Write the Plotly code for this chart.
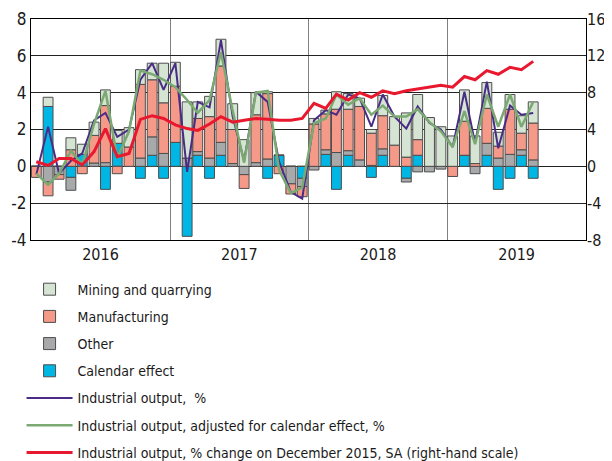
import plotly.graph_objects as go

months = [f"{y}-{m:02d}-15" for y in range(2016, 2020) for m in range(1, 13)][:44]

mining = [0, 0.5, 0, 0.65, 0.55, 0.72, 0.85, 0.7, 1.05, 0.8, 0.9, 2.15,
          1.3, 3.05, 0.9, 1.1, 1.45, 1.4, 1.45, 1.2, 0.1, 0, 0, 0,
          0.3, 0.2, 0.95, 0.85, 0.45, 0.2, 1.1, 1.55, 2.4, 2.45, 2.65, 2.15,
          1.65, 1.7, 1.5, 1.4, 0.75, 0.8, 0.95, 1.15]
manuf = [-0.6, -0.75, -0.25, 0.9, -0.4, 1.5, 3.1, -0.4, 1.05, 4.0, 3.1, 2.75,
         3.05, 0, 1.8, 2.25, 4.15, 1.85, -0.75, 2.6, 3.55, -0.4, -0.55, -0.55,
         2.3, 1.95, 2.35, 2.25, 2.9, 1.75, 1.8, 1.15, 0.5, 0.85, 0, 0,
         -0.55, 1.85, 0.15, 1.9, 0.65, 2.45, 0.9, 2.0]
other = [0, -0.85, -0.45, -0.7, 0, 0.18, 0.2, 0, 0, 0.45, 1.0, 0.7,
         0, 0.45, 0.2, 0.45, 0.7, 0.15, -0.45, 0.2, 0.4, 0, -0.95, -0.45,
         -0.2, 0.25, 0.75, 0.25, 0.35, 0.05, 0.35, 0, -0.2, -0.3, -0.3, -0.15,
         0, 0, -0.4, 0.65, 0.45, 0.65, 0.3, 0.35]
calendar = [0, 3.25, 0, -0.6, 0.65, 0, -1.25, 1.25, 0, -0.65, 0.6, -0.65,
            1.3, -3.8, 0.6, -0.65, 0.6, 0, 0, 0, -0.65, 0.6, 0, -0.65,
            0, 0.65, -1.25, 0.6, 0, -0.6, 0.6, 0, -0.65, 0.6, 0, 0,
            0, 0.6, 0, 0.6, -1.25, -0.65, 0.6, -0.65]
output = [-0.45, 2.15, -0.4, 0.3, 0.7, 2.5, 2.9, 1.6, 2.0, 4.7, 5.6, 4.15,
          5.6, -0.3, 3.5, 3.2, 6.85, 2.7, 0.3, 4.05, 3.5, 0.25, -1.4, -1.75,
          2.5, 3.05, 2.8, 3.9, 3.7, 2.15, 3.9, 2.7, 2.05, 3.25, 2.35, 2.0,
          1.05, 4.05, 1.25, 4.6, 0.98, 3.3, 2.8, 2.9]
output_adj = [-0.4, -1.0, -0.4, 0.85, 0.1, 2.3, 4.1, 0.45, 1.9, 5.2, 5.0, 4.7,
              4.3, 3.6, 2.9, 3.6, 6.2, 3.0, 0.2, 4.0, 4.1, -0.2, -1.45, -1.15,
              2.35, 2.6, 3.9, 3.35, 3.7, 2.8, 3.3, 2.7, 2.7, 3.1, 2.4, 1.9,
              1.05, 3.0, 1.2, 3.9, 2.15, 3.9, 2.15, 3.5]
output_dec15 = [0.5, 0.1, 0.85, 0.85, 0.15, 1.6, 4.1, 1.05, 1.4, 5.1, 5.5, 5.2,
                4.5, 4.1, 3.9, 4.6, 5.4, 4.8, 5.0, 5.2, 5.1, 5.0, 5.0, 5.2,
                6.85, 6.3, 7.85, 7.2, 8.0, 7.5, 8.2, 7.9, 8.2, 8.4, 8.6, 8.8,
                8.6, 9.75, 9.4, 10.4, 10.0, 10.75, 10.5, 11.4]

left_ticks = [-4, -2, 0, 2, 4, 6, 8]
left_labels = ["-4", "-2", "0", "2", "4", "6", "8"]
right_ticks = [-8, -4, 0, 4, 8, 12, 16]
right_labels = ["-8", "-4", "0", "4", "8", "12", "16"]

FONT = "Liberation Sans Narrow, DejaVu Sans Condensed, Arial Narrow, sans-serif"
outline = dict(color="#4d4d4d", width=1)
bar_w = 26 * 24 * 3600 * 1000

fig = go.Figure()
bars = [
    ("Calendar effect", calendar, "#00b6e4", 4),
    ("Other", other, "#a8a9ab", 3),
    ("Manufacturing", manuf, "#f59a88", 2),
    ("Mining and quarrying", mining, "#d6e4d3", 1),
]
for name, vals, col, rank in bars:
    fig.add_trace(go.Bar(x=months, y=vals, name=name, width=bar_w, legendgroup=f"g{rank}",
                         marker=dict(color=col, line=outline), legendrank=rank))

fig.add_trace(go.Scatter(x=months, y=output, name="Industrial output,  %", mode="lines",
                         line=dict(color="#4a2c86", width=2), legendrank=5, legendgroup="g5"))
fig.add_trace(go.Scatter(x=months, y=output_adj, name="Industrial output, adjusted for calendar effect, %",
                         mode="lines", line=dict(color="#7aaa72", width=2.5), legendrank=6,
                         legendgroup="g6"))
fig.add_trace(go.Scatter(x=months, y=output_dec15,
                         name="Industrial output, % change on December 2015, SA (right-hand scale)",
                         mode="lines", line=dict(color="#e8182f", width=3), yaxis="y2", legendrank=7,
                         legendgroup="g7"))

fig.update_layout(
    template="none",
    width=604, height=453,
    margin=dict(l=23, r=26, t=11, b=221, autoexpand=False),
    paper_bgcolor="white", plot_bgcolor="white",
    barmode="relative",
    font=dict(family=FONT, size=16, color="#1a1a1a"),
    xaxis=dict(type="date", range=["2016-01-01", "2020-01-01"], dtick="M12", tick0="2016-01-01",
               tickformat="%Y", ticklabelmode="period", showgrid=True, gridcolor="#808080",
               gridwidth=1, ticks="", showline=True, linecolor="black", linewidth=1, mirror=True,
               zeroline=False, tickfont=dict(size=16), automargin=False),
    yaxis=dict(range=[-4, 8], tickvals=left_ticks, ticktext=left_labels, showgrid=True,
               gridcolor="#222222", gridwidth=1,
               zeroline=True, zerolinecolor="#222222", zerolinewidth=1,
               showline=True, linecolor="black", linewidth=1, mirror=True, ticks="",
               tickfont=dict(size=17), automargin=False),
    yaxis2=dict(range=[-8, 16], tickvals=right_ticks, ticktext=right_labels, overlaying="y",
                side="right", showgrid=False, showline=False,
                zeroline=False, ticks="", tickfont=dict(size=16), automargin=False),
    legend=dict(x=-0.017, y=-0.152, xanchor="left", yanchor="top", orientation="v",
                font=dict(size=14), bgcolor="rgba(0,0,0,0)", traceorder="grouped",
                tracegroupgap=6, itemwidth=46),
    showlegend=True,
)

fig.write_html("out.html")
